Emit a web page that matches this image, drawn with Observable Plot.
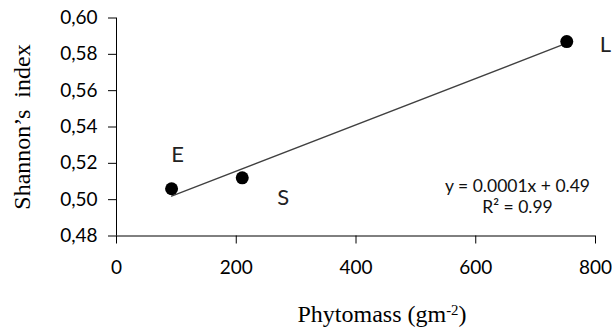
<!DOCTYPE html>
<html>
<head>
<meta charset="utf-8">
<script src="https://cdn.jsdelivr.net/npm/d3@7"></script>
<script src="https://cdn.jsdelivr.net/npm/@observablehq/plot@0.6"></script>
<style>
  html, body { margin: 0; padding: 0; background: #fff; }
  #chart { width: 612px; height: 331px; }
</style>
</head>
<body>
<div id="chart"></div>
<script>
// ---- data ----
const sites = ["E", "S", "L"];
const phytomass = [92, 210, 752];          // gm-2
const shannon = [0.506, 0.512, 0.587];     // Shannon's index
const xTicks = [0, 200, 400, 600, 800];
const yTicks = [0.48, 0.50, 0.52, 0.54, 0.56, 0.58, 0.60];
const yTickLabels = ["0,48", "0,50", "0,52", "0,54", "0,56", "0,58", "0,60"];
const equationLines = ["y = 0.0001x + 0.49", "R² = 0.99"];
const xTitle = "Phytomass (gm-2)";
const yTitle = "Shannon’s  index";

const rows = sites.map((s, i) => ({site: s, x: phytomass[i], y: shannon[i]}));
const labelFont = "Lato, 'Open Sans', sans-serif";
const serif = "'Liberation Serif', 'Times New Roman', serif";

const chart = Plot.plot({
  width: 612,
  height: 331,
  marginLeft: 116,
  marginRight: 17,
  marginTop: 17.5,
  marginBottom: 95.5,
  style: {fontFamily: labelFont, fontSize: "19px", color: "#000", background: "#fff", overflow: "visible"},
  x: {domain: [0, 800]},
  y: {domain: [0.48, 0.60]},
  marks: [
    Plot.ruleX([0], {stroke: "#000", strokeWidth: 1}),
    Plot.ruleY([0.48], {stroke: "#000", strokeWidth: 1}),
    Plot.axisY(yTicks, {
      tickSize: 8, tickPadding: 11, label: null, fontSize: 19,
      tickFormat: d => yTickLabels[yTicks.indexOf(d)]
    }),
    Plot.axisX(xTicks, {tickSize: 8, tickPadding: 16, label: null, fontSize: 19}),
    Plot.linearRegressionY(rows, {x: "x", y: "y", ci: 0, stroke: "#404040", strokeWidth: 1.3}),
    Plot.dot(rows, {x: "x", y: "y", r: 6.5, fill: "#000", stroke: "none"}),
    Plot.text(rows.filter(d => d.site === "E"), {x: "x", y: "y", text: "site", dx: 6, dy: -34, fontSize: 22, fill: "#222"}),
    Plot.text(rows.filter(d => d.site === "S"), {x: "x", y: "y", text: "site", dx: 41, dy: 20, fontSize: 22, fill: "#222"}),
    Plot.text(rows.filter(d => d.site === "L"), {x: "x", y: "y", text: "site", dx: 33, dy: 3, textAnchor: "start", fontSize: 22, fill: "#222"}),
    Plot.text([equationLines.join("\n")], {
      frameAnchor: "bottom-right", dx: -78, dy: -40, textAnchor: "middle", lineAnchor: "middle",
      lineHeight: 1.18, fontSize: 17.5, fill: "#111"
    }),
    Plot.text([yTitle], {
      frameAnchor: "left", dx: -94, rotate: -90, textAnchor: "middle", lineAnchor: "middle",
      fontFamily: serif, fontSize: 24, fill: "#000"
    }),
    Plot.text([xTitle], {
      frameAnchor: "bottom", dx: 26, dy: 78, textAnchor: "middle", lineAnchor: "middle",
      fontFamily: serif, fontSize: 24, fill: "#000"
    })
  ]
});

// render the "-2" of the x title as a superscript
d3.select(chart).selectAll("text").each(function () {
  const t = d3.select(this);
  if (t.text() === xTitle) {
    t.text(null);
    t.append("tspan").text("Phytomass (gm");
    t.append("tspan").attr("dy", "-0.45em").attr("font-size", "0.62em").text("-2");
    t.append("tspan").attr("dy", "0.28em").text(")");
  }
});

document.getElementById("chart").appendChild(chart);
</script>
</body>
</html>
